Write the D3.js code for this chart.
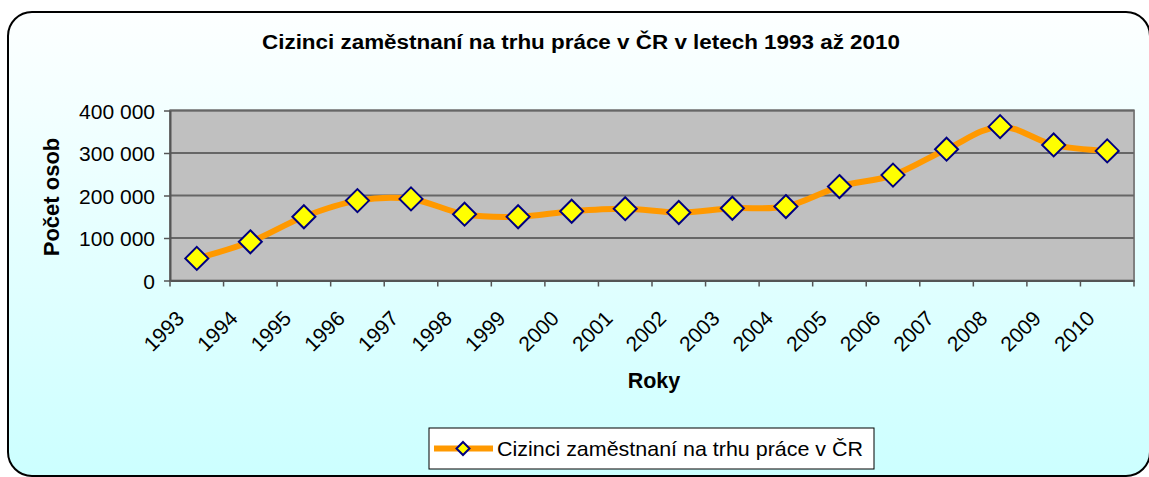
<!DOCTYPE html>
<html>
<head>
<meta charset="utf-8">
<script src="https://cdn.jsdelivr.net/npm/d3@7"></script>
<style>
  html, body { margin: 0; padding: 0; background: #ffffff; }
  svg { display: block; }
  text { font-family: "Liberation Sans", Arial, sans-serif; fill: #000; }
</style>
</head>
<body>
<svg id="chart" width="1149" height="477"></svg>
<script>
const years = ["1993","1994","1995","1996","1997","1998","1999","2000","2001","2002","2003","2004","2005","2006","2007","2008","2009","2010"];
const employed = [52000, 91000, 150000, 188000, 192000, 156000, 150000, 163000, 169000, 160000, 170000, 174000, 221000, 248000, 309000, 362000, 319000, 305000];
const yTicks = [0, 100000, 200000, 300000, 400000];
const titleText = "Cizinci zaměstnaní na trhu práce v ČR v letech 1993 až 2010";
const yTitle = "Počet osob";
const xTitle = "Roky";
const seriesName = "Cizinci zaměstnaní na trhu práce v ČR";

const svg = d3.select("#chart");
const defs = svg.append("defs");
const grad = defs.append("linearGradient").attr("id", "bg").attr("x1", 0).attr("y1", 0).attr("x2", 0).attr("y2", 1);
grad.append("stop").attr("offset", "0%").attr("stop-color", "#fdffff");
grad.append("stop").attr("offset", "100%").attr("stop-color", "#ccffff");

// chart frame
svg.append("rect")
  .attr("x", 8).attr("y", 12).attr("width", 1142).attr("height", 464)
  .attr("rx", 24).attr("ry", 24)
  .attr("fill", "url(#bg)").attr("stroke", "#000").attr("stroke-width", 2);

const pLeft = 170, pRight = 1134, pTop = 110.5, pBottom = 280.5;
const x = d3.scaleBand().domain(years).range([pLeft, pRight]);
const y = d3.scaleLinear().domain([0, 400000]).range([pBottom, pTop]);
const fmt = v => d3.format(",")(v).replace(/,/g, " ");

// plot area
svg.append("rect")
  .attr("x", pLeft).attr("y", pTop).attr("width", pRight - pLeft).attr("height", pBottom - pTop)
  .attr("fill", "#c0c0c0").attr("stroke", "#808080").attr("stroke-width", 2);

// gridlines
svg.append("g").selectAll("line").data(yTicks.filter(d => d > 0)).join("line")
  .attr("x1", pLeft).attr("x2", pRight)
  .attr("y1", d => y(d)).attr("y2", d => y(d))
  .attr("stroke", "#666666").attr("stroke-width", 2);

// y axis
const yAxis = svg.append("g").attr("transform", `translate(${pLeft},0)`)
  .call(d3.axisLeft(y).tickValues(yTicks).tickFormat(fmt).tickSizeInner(6).tickSizeOuter(0).tickPadding(9));
yAxis.select(".domain").attr("stroke", "#555").attr("stroke-width", 2);
yAxis.selectAll(".tick line").attr("stroke", "#555").attr("stroke-width", 1.5);
yAxis.selectAll(".tick text")
  .style("font-family", "'Liberation Sans', Arial, sans-serif")
  .style("font-size", "21px").attr("fill", "#000").attr("dy", "0.36em");

// x axis
const xAxis = svg.append("g").attr("transform", `translate(0,${pBottom})`)
  .call(d3.axisBottom(x).tickSize(0).tickFormat(""));
xAxis.select(".domain").attr("stroke", "#555").attr("stroke-width", 2);
const bounds = years.map(d => x(d)).concat([x(years[years.length - 1]) + x.bandwidth()]);
svg.append("g").selectAll("line").data(bounds).join("line")
  .attr("x1", d => d).attr("x2", d => d)
  .attr("y1", pBottom).attr("y2", pBottom + 6)
  .attr("stroke", "#555").attr("stroke-width", 1.5);

svg.append("g").selectAll("text").data(years).join("text")
  .attr("transform", d => `translate(${x(d) + x.bandwidth() / 2 - 22},309) rotate(-45)`)
  .attr("text-anchor", "end").attr("dy", "0.72em")
  .style("font-size", "21px")
  .text(d => d);

// series line
const pts = years.map((d, i) => [x(d) + x.bandwidth() / 2, y(employed[i])]);
svg.append("path")
  .attr("d", d3.line().curve(d3.curveCatmullRom.alpha(0))(pts))
  .attr("fill", "none").attr("stroke", "#ff9900").attr("stroke-width", 6)
  .attr("stroke-linejoin", "round");

const diamond = (cx, cy, r) => `M${cx},${cy - r}L${cx + r},${cy}L${cx},${cy + r}L${cx - r},${cy}Z`;
svg.append("g").selectAll("path").data(pts).join("path")
  .attr("d", p => diamond(p[0], p[1], 11.5))
  .attr("fill", "#ffff00").attr("stroke", "#000080").attr("stroke-width", 2);

// titles
svg.append("text").attr("x", 581).attr("y", 49).attr("text-anchor", "middle")
  .style("font-size", "20px").style("font-weight", "bold")
  .attr("textLength", 638).attr("lengthAdjust", "spacingAndGlyphs")
  .text(titleText);

svg.append("text").attr("transform", "translate(59,197) rotate(-90)")
  .attr("text-anchor", "middle")
  .style("font-size", "22px").style("font-weight", "bold")
  .text(yTitle);

svg.append("text").attr("x", 654).attr("y", 388).attr("text-anchor", "middle")
  .style("font-size", "21.5px").style("font-weight", "bold")
  .text(xTitle);

// legend
const lg = svg.append("g");
lg.append("rect").attr("x", 429).attr("y", 428).attr("width", 445).attr("height", 41)
  .attr("fill", "#ffffff").attr("stroke", "#000").attr("stroke-width", 1);
lg.append("line").attr("x1", 434).attr("x2", 493).attr("y1", 448.5).attr("y2", 448.5)
  .attr("stroke", "#ff9900").attr("stroke-width", 6);
lg.append("path").attr("d", diamond(463, 448.5, 6.5))
  .attr("fill", "#ffff00").attr("stroke", "#000080").attr("stroke-width", 2);
lg.append("text").attr("x", 497).attr("y", 456)
  .style("font-size", "21px")
  .attr("textLength", 366).attr("lengthAdjust", "spacingAndGlyphs")
  .text(seriesName);
</script>
</body>
</html>
